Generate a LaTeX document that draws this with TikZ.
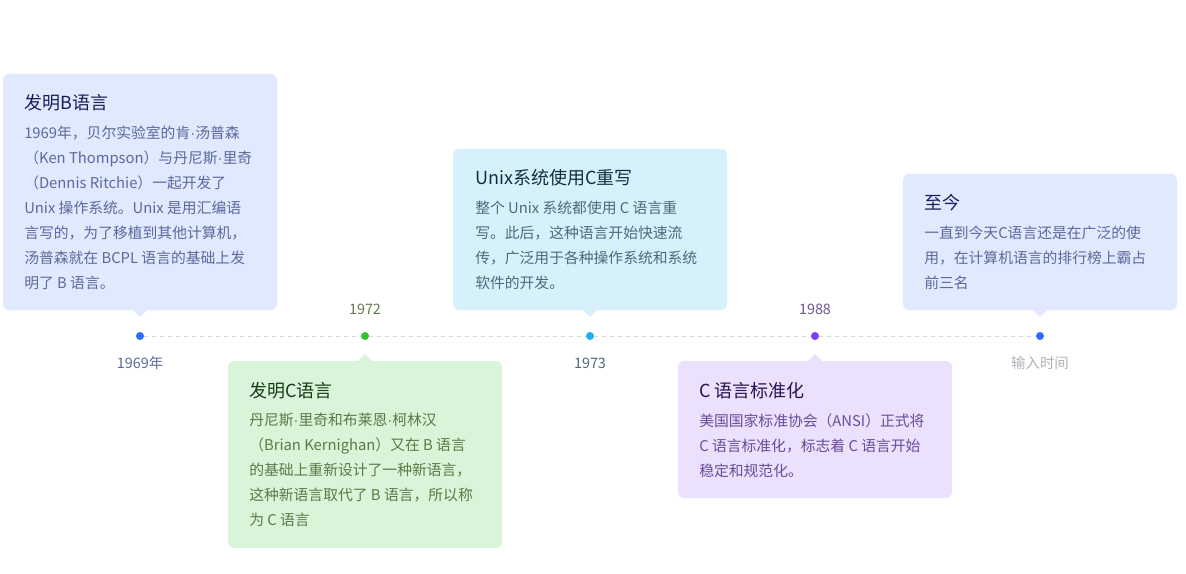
\documentclass[tikz,border=0pt]{standalone}
\usepackage{fontspec}
\setmainfont{Noto Sans CJK SC}
\newfontfamily\dotfont{Liberation Sans}
\newcommand{\namedot}{{\dotfont ·}}
\usepackage{xcolor}
\usetikzlibrary{positioning}

\definecolor{cardblue}{HTML}{E1E9FE}
\definecolor{cardgreen}{HTML}{D9F4D8}
\definecolor{cardcyan}{HTML}{D7F1FB}
\definecolor{cardpurple}{HTML}{EBE1FC}
\definecolor{dotblue}{HTML}{2F6BFF}
\definecolor{dotgreen}{HTML}{2EC52E}
\definecolor{dotcyan}{HTML}{1CB0F6}
\definecolor{dotpurple}{HTML}{7B3FF0}
\definecolor{titleblue}{HTML}{16205A}
\definecolor{titlegreen}{HTML}{1A3A1A}
\definecolor{titlecyan}{HTML}{0F3040}
\definecolor{titlepurple}{HTML}{2A1250}
\definecolor{bodyblue}{HTML}{5A6A9C}
\definecolor{bodygreen}{HTML}{5A7A48}
\definecolor{bodycyan}{HTML}{4E6A78}
\definecolor{bodypurple}{HTML}{6A4A9A}
\definecolor{hintgray}{HTML}{B0B0B8}

\begin{document}
\begin{tikzpicture}[x=0.75pt,y=-0.75pt,
    card/.style={rectangle,rounded corners=4.5pt,inner sep=0pt,outer sep=0pt,
        minimum width=205.5pt,anchor=north west},
    cardtitle/.style={inner sep=0pt,anchor=base west,font=\fontsize{13.5pt}{16pt}\selectfont},
    cardbody/.style={inner sep=0pt,anchor=base west,align=left,
        font=\fontsize{11.1pt}{18.75pt}\selectfont},
    dot/.style={circle,inner sep=0pt,minimum size=6pt},
    yearlabel/.style={inner sep=0pt,font=\fontsize{10.8pt}{12pt}\selectfont}]
    \useasboundingbox (0,0) rectangle (1186,574);

    % timeline
    \foreach \x/\n/\c in {140/d1/dotblue,365/d2/dotgreen,590/d3/dotcyan,815/d4/dotpurple,1040/d5/dotblue} {
            \node[dot,fill=\c] (\n) at (\x,336) {};
        }
    \draw[gray!30,dashed,line width=0.6pt] (d1) -- (d2) -- (d3) -- (d4) -- (d5);
    \node[yearlabel,text=bodyblue] (y1) at ([yshift=-20.25pt]d1) {1969年};
    \node[yearlabel,text=bodygreen!80!gray] (y2) at ([yshift=20.25pt]d2) {1972};
    \node[yearlabel,text=bodycyan] (y3) at ([yshift=-20.25pt]d3) {1973};
    \node[yearlabel,text=bodypurple!80!gray] (y4) at ([yshift=20.25pt]d4) {1988};
    \node[yearlabel,text=hintgray] (y5) at ([yshift=-20.25pt]d5) {输入时间};

    % cards
    \node[card,fill=cardblue,minimum height=177pt] (cardB) at (3,74) {};
    \node[card,fill=cardgreen,minimum height=140.25pt] (cardC) at (228,361) {};
    \node[card,fill=cardcyan,minimum height=120.75pt] (cardUnix) at (453,149) {};
    \node[card,fill=cardpurple,minimum height=102.75pt] (cardStd) at (678,361) {};
    \node[card,fill=cardblue,minimum height=102pt] (cardNow) at (903,174) {};

    % pointers
    \foreach \n/\c in {cardB/cardblue,cardUnix/cardcyan,cardNow/cardblue} {
            \fill[\c] ([xshift=-5.25pt]\n.south) -- ([yshift=-5.25pt]\n.south) -- ([xshift=5.25pt]\n.south) -- cycle;
        }
    \foreach \n/\c in {cardC/cardgreen,cardStd/cardpurple} {
            \fill[\c] ([xshift=-5.25pt]\n.north) -- ([yshift=5.25pt]\n.north) -- ([xshift=5.25pt]\n.north) -- cycle;
        }

    % texts (body nodes sit on the baseline of their last line)
    \node[cardtitle,text=titleblue] (titleB) at (24,110) {发明B语言};
    \node[cardbody,text=bodyblue] (bodyB) at (24,288) {1969年，贝尔实验室的肯\namedot 汤普森\\（Ken Thompson）与丹尼斯\namedot 里奇\\（Dennis Ritchie）一起开发了\\Unix 操作系统。Unix 是用汇编语\\言写的，为了移植到其他计算机，\\汤普森就在 BCPL 语言的基础上发\\明了 B 语言。};

    \node[cardtitle,text=titlegreen] (titleC) at (249,397) {发明C语言};
    \node[cardbody,text=bodygreen] (bodyC) at (249,525) {丹尼斯\namedot 里奇和布莱恩\namedot 柯林汉\\（Brian Kernighan）又在 B 语言\\的基础上重新设计了一种新语言，\\这种新语言取代了 B 语言，所以称\\为 C 语言};

    \node[cardtitle,text=titlecyan] (titleUnix) at (475,185) {Unix系统使用C重写};
    \node[cardbody,text=bodycyan] (bodyUnix) at (475,288) {整个 Unix 系统都使用 C 语言重\\写。此后，这种语言开始快速流\\传，广泛用于各种操作系统和系统\\软件的开发。};

    \node[cardtitle,text=titlepurple] (titleStd) at (699,397) {C 语言标准化};
    \node[cardbody,text=bodypurple] (bodyStd) at (699,476) {美国国家标准协会（ANSI）正式将\\C 语言标准化，标志着 C 语言开始\\稳定和规范化。};

    \node[cardtitle,text=titleblue] (titleNow) at (924,210) {至今};
    \node[cardbody,text=bodyblue] (bodyNow) at (924,288) {一直到今天C语言还是在广泛的使\\用，在计算机语言的排行榜上霸占\\前三名};
\end{tikzpicture}
\end{document}
